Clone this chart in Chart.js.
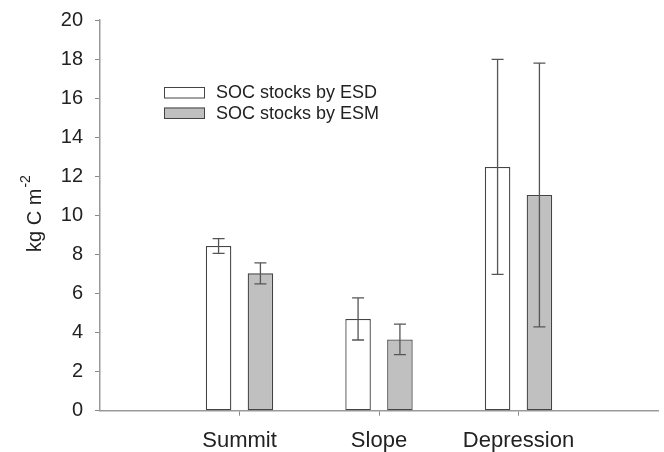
<!DOCTYPE html>
<html>
<head>
<meta charset="utf-8">
<script src="https://cdn.jsdelivr.net/npm/chart.js@4"></script>
<style>
html,body{margin:0;padding:0;background:#fff;}
#wrap{width:664px;height:452px;}
</style>
</head>
<body>
<div id="wrap"><canvas id="c" width="664" height="452"></canvas></div>
<script>
const categories = ['Summit', 'Slope', 'Depression'];
const esdValues = [8.43, 4.70, 12.48];
const esdErrors = [0.38, 1.08, 5.50];
const esmValues = [7.03, 3.65, 11.04];
const esmErrors = [0.54, 0.78, 6.75];
const yTicks = [0, 2, 4, 6, 8, 10, 12, 14, 16, 18, 20];
const seriesNames = ['SOC stocks by ESD', 'SOC stocks by ESM'];

const FONT = '"Liberation Sans", Arial, sans-serif';
const labels = ['', ...categories, ''];
const pad = arr => [null, ...arr, null];

const errorBarPlugin = {
  id: 'errorBars',
  afterDatasetsDraw(chart) {
    const ctx = chart.ctx;
    const ys = chart.scales.y;
    chart.data.datasets.forEach((ds, di) => {
      const meta = chart.getDatasetMeta(di);
      meta.data.forEach((el, i) => {
        const v = ds.data[i];
        const e = ds.errors[i];
        if (v == null || e == null) return;
        const x = el.x;
        const yt = ys.getPixelForValue(v + e);
        const yb = ys.getPixelForValue(v - e);
        ctx.save();
        ctx.strokeStyle = '#555';
        ctx.lineWidth = 1.3;
        ctx.beginPath();
        ctx.moveTo(x, yt); ctx.lineTo(x, yb);
        ctx.moveTo(x - 6, yt); ctx.lineTo(x + 6, yt);
        ctx.moveTo(x - 6, yb); ctx.lineTo(x + 6, yb);
        ctx.stroke();
        ctx.restore();
      });
    });
  }
};

const decorPlugin = {
  id: 'decor',
  afterDraw(chart) {
    const ctx = chart.ctx;
    ctx.save();
    chart.data.datasets.forEach((ds, i) => {
      const bx = 164, by = 87 + i * 20.5, bw = 41, bh = 11.5;
      ctx.fillStyle = ds.backgroundColor;
      ctx.fillRect(bx, by, bw, bh);
      ctx.strokeStyle = '#444';
      ctx.lineWidth = 1;
      ctx.strokeRect(bx + 0.5, by + 0.5, bw - 1, bh - 1);
      ctx.fillStyle = '#222';
      ctx.font = '18px ' + FONT;
      ctx.textBaseline = 'middle';
      ctx.textAlign = 'left';
      ctx.fillText(ds.label, 216, by + bh / 2 + 0.5);
    });
    ctx.translate(35, 214);
    ctx.rotate(-Math.PI / 2);
    ctx.fillStyle = '#222';
    ctx.textBaseline = 'middle';
    ctx.textAlign = 'left';
    ctx.font = '20px ' + FONT;
    const main = 'kg C m';
    const w = ctx.measureText(main).width;
    ctx.font = '14px ' + FONT;
    const sup = '-2';
    const ws = ctx.measureText(sup).width;
    const total = w + ws;
    ctx.font = '20px ' + FONT;
    ctx.fillText(main, -total / 2, 0);
    ctx.font = '14px ' + FONT;
    ctx.fillText(sup, -total / 2 + w + 1, -9);
    ctx.restore();
  }
};

new Chart(document.getElementById('c'), {
  type: 'bar',
  data: {
    labels: labels,
    datasets: [
      { label: seriesNames[0], data: pad(esdValues), errors: pad(esdErrors),
        backgroundColor: '#ffffff', borderColor: '#444', borderWidth: 1.3, borderSkipped: false },
      { label: seriesNames[1], data: pad(esmValues), errors: pad(esmErrors),
        backgroundColor: '#c0c0c0', borderColor: '#444', borderWidth: 1.3, borderSkipped: false }
    ]
  },
  options: {
    responsive: false,
    animation: false,
    devicePixelRatio: 1,
    categoryPercentage: 0.6,
    barPercentage: 0.61,
    layout: { padding: { top: 20, right: 6, left: 0, bottom: 0 } },
    plugins: { legend: { display: false }, tooltip: { enabled: false } },
    scales: {
      x: {
        type: 'category',
        offset: false,
        grid: {
          offset: false,
          drawOnChartArea: false,
          drawTicks: true,
          tickLength: 5,
          color: c => (c.index >= 1 && c.index <= 3) ? '#888' : 'rgba(0,0,0,0)'
        },
        border: { color: '#999', width: 1.5 },
        ticks: { color: '#222', font: { family: FONT, size: 22 }, padding: 12, maxRotation: 0, autoSkip: false },
        afterFit: s => { s.height = 41.3; s.paddingLeft = 0; s.paddingRight = 0; }
      },
      y: {
        min: 0, max: 20,
        afterBuildTicks: s => { s.ticks = yTicks.map(v => ({ value: v })); },
        grid: { drawOnChartArea: false, drawTicks: true, tickLength: 5, color: '#888' },
        border: { color: '#999', width: 1.5 },
        ticks: { color: '#222', font: { family: FONT, size: 20 }, padding: 12 },
        afterFit: s => { s.width = 100; s.paddingTop = 0; s.paddingBottom = 0; }
      }
    }
  },
  plugins: [errorBarPlugin, decorPlugin]
});
</script>
</body>
</html>
